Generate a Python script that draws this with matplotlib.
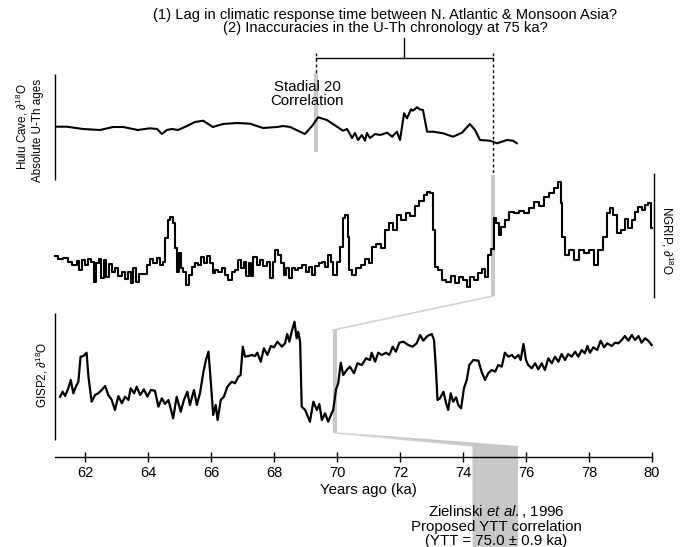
import matplotlib.pyplot as plt
import numpy as np

plt.rcParams.update({
    "font.family": ["Liberation Sans", "DejaVu Sans"],
    "font.size": 10.8,
    "mathtext.fontset": "custom",
    "mathtext.rm": "Liberation Sans",
    "mathtext.it": "Liberation Sans:italic",
    "mathtext.bf": "Liberation Sans:bold",
})

# ---- data (ages in ka, d18O in relative units) ----

hulu_age = [61.11, 61.42, 61.94, 62.48, 62.89, 63.21, 63.68, 64.06, 64.29, 64.44,
            64.60, 64.76, 64.95, 65.24, 65.49, 65.75, 66.06, 66.38, 66.83, 67.24,
            67.65, 68.10, 68.29, 68.51, 68.98, 69.21, 69.40, 69.68, 70.00, 70.19,
            70.32, 70.48, 70.57, 70.67, 70.79, 70.89, 70.95, 71.05, 71.21, 71.37,
            71.59, 71.75, 71.90, 72.00, 72.13, 72.22, 72.35, 72.41, 72.54, 72.63,
            72.73, 72.86, 73.05, 73.37, 73.68, 73.97, 74.22, 74.38, 74.54, 74.86,
            75.08, 75.40, 75.59, 75.71]
hulu_d18o = [0.3, 0.3, -2, -3, 0, 0, -3, -1.3, -2, -7,
             -3, -2, -3, 1, 5, 6.3, 0, 3, 4, 3.3,
             -1, 0, 1, 0, -7, 1, 9.7, 7, 0.3, -3.7,
             -2, -11, -6, -13, -8, -13.7, -6, -11, -7, -8,
             -5.7, -9.7, -4.7, -13, 13.7, 8.7, 17.7, 16.3, 19.7, 17.7,
             17, -4.7, -4.7, -6.3, -9.7, -5.7, 3, -3, -13, -13.7,
             -16.3, -13, -13.7, -16.3]

ngrip_age = [61.05, 61.21, 61.37, 61.52, 61.68, 61.79, 61.86, 61.95, 62.05, 62.16,
             62.24, 62.32, 62.39, 62.48, 62.56, 62.64, 62.71, 62.79, 62.90, 63.01,
             63.11, 63.22, 63.32, 63.43, 63.48, 63.59, 63.66, 63.77, 63.91, 64.01,
             64.12, 64.22, 64.33, 64.44, 64.51, 64.59, 64.65, 64.75, 64.83, 64.89,
             64.96, 65.02, 65.07, 65.17, 65.25, 65.33, 65.44, 65.55, 65.65, 65.74,
             65.81, 65.91, 66.02, 66.10, 66.18, 66.29, 66.39, 66.50, 66.60, 66.71,
             66.82, 66.92, 67.01, 67.08, 67.15, 67.24, 67.29, 67.40, 67.50, 67.61,
             67.71, 67.82, 67.93, 68.00, 68.09, 68.19, 68.28, 68.35, 68.42, 68.51,
             68.61, 68.72, 68.83, 68.95, 69.06, 69.14, 69.25, 69.36, 69.48, 69.59,
             69.67, 69.76, 69.83, 69.94, 70.04, 70.15, 70.22, 70.31, 70.36, 70.41,
             70.52, 70.68, 70.84, 70.94, 71.07, 71.17, 71.31, 71.47, 71.58, 71.71,
             71.84, 71.98, 72.11, 72.26, 72.40, 72.53, 72.69, 72.83, 72.90, 73.01,
             73.06, 73.14, 73.27, 73.38, 73.53, 73.69, 73.80, 73.96, 74.06, 74.17,
             74.28, 74.44, 74.54, 74.65, 74.75, 74.84, 74.94, 75.02, 75.09, 75.17,
             75.26, 75.39, 75.55, 75.71, 75.86, 76.02, 76.18, 76.34, 76.50, 76.66,
             76.82, 76.97, 77.08, 77.13, 77.18, 77.29, 77.45, 77.61, 77.77, 77.93,
             78.09, 78.22, 78.35, 78.51, 78.61, 78.72, 78.83, 78.93, 79.09, 79.20,
             79.30, 79.41, 79.51, 79.62, 79.73, 79.83, 79.94, 79.99]
ngrip_d18o = [44, 40.7, 41.7, 38.3, 35, 39.3, 30, 40, 35, 40.7,
              38.3, 18.3, 36.7, 40.7, 21.7, 40, 22.7, 36, 28.3, 31.7,
              24, 28.3, 20.7, 28.3, 17.3, 31.7, 18.3, 26, 26, 35,
              40.7, 37.3, 41.7, 35, 38.3, 61.7, 80, 82.7, 77.3, 51.7,
              28.3, 46.7, 31.7, 28.3, 15, 25, 33.3, 37.3, 35, 42.7,
              36.7, 44, 36.7, 26.7, 30, 28.3, 31.7, 25, 20, 28.3,
              30, 40, 31.7, 38.3, 24, 36.7, 24, 42.7, 35, 40,
              34, 38.3, 21.7, 38.3, 50, 45, 36.7, 25, 31.7, 21.7,
              31.7, 30, 32.3, 35, 28.3, 33.3, 25, 34, 36.7, 38.3,
              33.3, 45, 38.3, 25, 38.3, 53.3, 81.7, 85, 63.3, 30,
              25, 31.7, 35, 40.7, 36.7, 53.3, 56, 51.7, 70, 77.3,
              70, 85, 80, 86.7, 84, 94, 99.3, 105, 108.3, 106.7,
              70, 33.3, 30, 20, 18.3, 24, 17.3, 23.3, 20, 13.3,
              23.3, 20, 26.7, 30.7, 23.3, 45, 50.7, 81.7, 76.7, 65,
              73.3, 80, 88.3, 86.7, 89.3, 86.7, 91.7, 98.3, 94, 103.3,
              107.3, 111.7, 118.3, 96.7, 63.3, 45, 50, 40, 50, 46.7,
              50, 35, 50, 63.3, 86.7, 91.7, 85, 66.7, 70, 80.7,
              71.7, 80, 88.3, 93.3, 90, 95, 96.7, 71.7]

gisp_age = [61.21, 61.29, 61.37, 61.47, 61.55, 61.63, 61.71, 61.79, 61.86, 61.95,
            62.05, 62.11, 62.21, 62.32, 62.42, 62.53, 62.64, 62.74, 62.85, 62.95,
            63.06, 63.17, 63.27, 63.38, 63.45, 63.56, 63.64, 63.75, 63.87, 63.98,
            64.09, 64.22, 64.33, 64.44, 64.54, 64.65, 64.80, 64.91, 65.04, 65.14,
            65.25, 65.33, 65.46, 65.55, 65.65, 65.76, 65.84, 65.92, 65.99, 66.07,
            66.15, 66.21, 66.31, 66.41, 66.52, 66.66, 66.76, 66.87, 66.94, 67.01,
            67.08, 67.19, 67.29, 67.40, 67.47, 67.58, 67.68, 67.79, 67.90, 68.00,
            68.11, 68.25, 68.35, 68.42, 68.49, 68.56, 68.65, 68.72, 68.77, 68.83,
            68.88, 68.99, 69.14, 69.25, 69.36, 69.44, 69.52, 69.62, 69.72, 69.83,
            69.88, 69.97, 70.04, 70.12, 70.20, 70.31, 70.41, 70.54, 70.65, 70.79,
            70.92, 71.05, 71.10, 71.21, 71.31, 71.42, 71.56, 71.66, 71.77, 71.87,
            71.98, 72.11, 72.26, 72.40, 72.53, 72.64, 72.74, 72.87, 73.01, 73.08,
            73.14, 73.19, 73.27, 73.38, 73.46, 73.53, 73.61, 73.69, 73.78, 73.85,
            73.94, 74.03, 74.12, 74.20, 74.33, 74.49, 74.59, 74.70, 74.80, 74.91,
            75.02, 75.12, 75.23, 75.33, 75.44, 75.55, 75.65, 75.76, 75.83, 75.92,
            76.00, 76.07, 76.18, 76.29, 76.39, 76.50, 76.60, 76.71, 76.82, 76.92,
            77.03, 77.13, 77.24, 77.34, 77.45, 77.56, 77.66, 77.77, 77.87, 77.95,
            78.03, 78.14, 78.26, 78.37, 78.48, 78.58, 78.72, 78.83, 78.93, 79.04,
            79.14, 79.25, 79.36, 79.46, 79.57, 79.67, 79.78, 79.88, 79.99]
gisp_d18o = [43.3, 48.3, 44, 51.7, 60, 46.7, 53.3, 58.3, 83.3, 84,
             87.3, 63.3, 38.3, 45, 46.7, 50, 54, 45, 40, 30,
             44, 36.7, 43.3, 40, 51.7, 46.7, 53.3, 45, 50.7, 43.3,
             50, 49.3, 33.3, 41.7, 36, 40, 21.7, 43.3, 28.3, 40,
             48.3, 35, 50, 35, 46.7, 68.3, 80, 88.3, 60, 25,
             35, 20, 40, 43.3, 53.3, 58.3, 56.7, 63.3, 65, 93.3,
             83.3, 84, 85, 84, 87.3, 78.3, 91.7, 85, 94, 92.7,
             98.3, 93.3, 96.7, 106, 98.3, 108.3, 118.3, 101.7, 108.3, 98.3,
             33.3, 30, 18.3, 38.3, 30, 36, 20, 26.7, 18.3, 26.7,
             30, 50.7, 56.7, 77.3, 65, 70, 73.3, 66.7, 76.7, 75,
             81.7, 80, 87.3, 78.3, 87.3, 85, 87.3, 85, 93.3, 88.3,
             97.3, 98.3, 95, 93.3, 96.7, 105, 99.3, 104, 106, 100,
             71.7, 40, 41.7, 48.3, 37.3, 30, 46.7, 38.3, 42.7, 35,
             31.7, 51.7, 60, 75, 80, 79.3, 68.3, 60, 66.7, 70,
             68.3, 75, 73.3, 87.3, 83.3, 85, 81.7, 85, 80, 96,
             80, 75, 71.7, 76.7, 70.7, 76.7, 70, 81.7, 76.7, 83.3,
             78.3, 86, 80, 86, 83.3, 88.3, 83.3, 90, 86.7, 94,
             87.3, 92.7, 90, 99.3, 92.7, 96.7, 94, 97.3, 96.7, 100,
             104, 99.3, 105, 100, 104, 97.3, 101.7, 99.3, 95]

tick_ages = [62, 64, 66, 68, 70, 72, 74, 76, 78, 80]
stadial20_hulu = 69.33   # Hulu Cave tie point
stadial20_ngrip = 74.95  # same event in NGRIP
stadial20_gisp = 69.94   # same event in GISP2
ytt_band = (74.3, 75.75)  # Zielinski et al. 1996 YTT correlation

# ---- layout: x in ka, y in figure pixels from the top ----

W, H = 684, 547
PX_PER_KA = 31.5
X0 = 59.302  # age at the left edge of the figure
GRAY = "#c8c8c8"
LIGHT = "#d2d2d2"
LABEL_SIZE = 8.4


def ka(px):
    return X0 + px / PX_PER_KA


def px_box(top, bottom):
    return [0, 1 - bottom / H, 1, (bottom - top) / H]


x_lim = (X0, ka(W))
fig = plt.figure(figsize=(W / 100, H / 100), dpi=100)

over = fig.add_axes([0, 0, 1, 1])
over.set_xlim(*x_lim)
over.set_ylim(H, 0)
over.axis("off")

# gray correlation bars and connectors
bw = 0.13
over.bar(stadial20_hulu, 79, bottom=73, width=bw, color=GRAY, lw=0)
over.bar(stadial20_ngrip, 121, bottom=175, width=bw, color=GRAY, lw=0)
over.bar(stadial20_gisp, 103, bottom=330, width=bw, color=GRAY, lw=0)
over.plot([stadial20_ngrip, stadial20_gisp - bw / 2], [296, 330], color=LIGHT, lw=1.2)
over.fill([stadial20_gisp, ytt_band[1], ytt_band[1], ytt_band[0], ytt_band[0]],
          [432, 446, H, H, 446], color=GRAY, lw=0)
over.plot([stadial20_gisp, ytt_band[0]], [433, 446], color=LIGHT, lw=1)

# bracket with dotted leaders
over.vlines(stadial20_hulu, 53, 73, colors="k", linestyles=(0, (2, 2)), lw=1)
over.vlines(stadial20_ngrip, 53, 175, colors="k", linestyles=(0, (2, 2)), lw=1)
over.plot([stadial20_hulu, stadial20_ngrip], [58, 58], color="k", lw=1)
mid = (stadial20_hulu + stadial20_ngrip) / 2
over.plot([mid, mid], [38, 58], color="k", lw=1)

# panel axis lines
over.vlines(ka(55), 74, 180, colors="k", lw=1)
over.vlines(ka(654), 173, 298, colors="k", lw=1)
over.vlines(ka(55), 313, 440, colors="k", lw=1)

# curves
hulu_ax = fig.add_axes(px_box(70, 160))
hulu_ax.set_ylim(-33, 57)
ngrip_ax = fig.add_axes(px_box(170, 300))
ngrip_ax.set_ylim(0, 130)
gisp_ax = fig.add_axes(px_box(310, 440))
gisp_ax.set_ylim(0, 130)
for a in (hulu_ax, ngrip_ax, gisp_ax):
    a.set_xlim(*x_lim)
    a.axis("off")

hulu_ax.plot(hulu_age, hulu_d18o, color="k", lw=1.5, solid_joinstyle="round")
ngrip_ax.plot(ngrip_age, ngrip_d18o, color="k", lw=1.5, drawstyle="steps-mid")
gisp_ax.plot(gisp_age, gisp_d18o, color="k", lw=1.6, solid_joinstyle="round")

# time axis
time_ax = fig.add_axes([55 / W, 1 - 457 / H, (652 - 55) / W, 0.0001])
time_ax.set_xlim(ka(55), ka(652))
time_ax.set_xticks(tick_ages)
for s in ("left", "right", "top"):
    time_ax.spines[s].set_visible(False)
time_ax.spines["bottom"].set_linewidth(1)
time_ax.set_yticks([])
time_ax.patch.set_alpha(0)
time_ax.tick_params(axis="x", direction="inout", length=7, width=1, pad=3, labelsize=10.5)
time_ax.set_xlabel("Years ago (ka)", fontsize=10.8, labelpad=2)
time_ax.xaxis.label.set_x((368 - 55) / (652 - 55))

# text
over.text(ka(385), 21.5,
          "(1) Lag in climatic response time between N. Atlantic & Monsoon Asia?\n"
          "(2) Inaccuracies in the U-Th chronology at 75 ka?",
          ha="center", va="center", multialignment="center",
          fontsize=10.6, linespacing=0.86)
over.text(ka(307), 87, "Stadial 20", ha="center", va="center")
over.text(ka(307), 101, "Correlation", ha="center", va="center")
over.text(ka(22), 127, r"Hulu Cave, $\partial^{18}$O", rotation=90,
          ha="center", va="center", fontsize=LABEL_SIZE)
over.text(ka(38), 130, "Absolute U-Th ages", rotation=90,
          ha="center", va="center", fontsize=LABEL_SIZE)
over.text(ka(667), 240, r"NGRIP, $\partial^{18}$O", rotation=270,
          ha="center", va="center", fontsize=LABEL_SIZE)
over.text(ka(42), 375, r"GISP2, $\partial^{18}$O", rotation=90,
          ha="center", va="center", fontsize=LABEL_SIZE)
over.text(ka(496), 512, r"Zielinski $\it{et\ al.}$, 1996", ha="center", va="center")
over.text(ka(496), 527, "Proposed YTT correlation", ha="center", va="center")
over.text(ka(496), 541, "(YTT = 75.0 \u00b1 0.9 ka)", ha="center", va="center")

fig.savefig("out.png", dpi=100)
